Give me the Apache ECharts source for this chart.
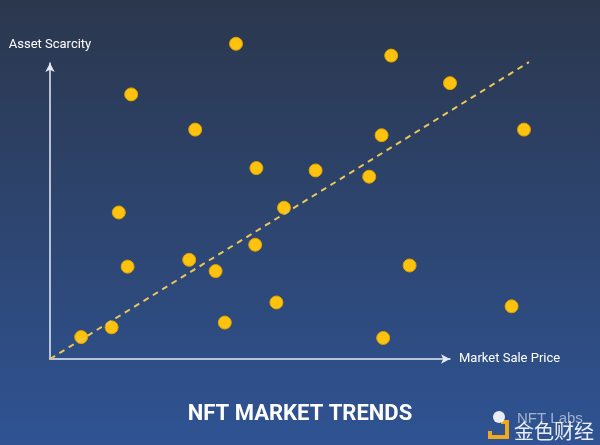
<!DOCTYPE html>
<html>
<head>
<meta charset="utf-8">
<script src="https://cdn.jsdelivr.net/npm/echarts@6/dist/echarts.min.js"></script>
<style>html,body{margin:0;padding:0;}#c{width:600px;height:445px;}</style>
</head>
<body>
<div id="c"></div>
<script>
// Market Sale Price (x) and Asset Scarcity (y)
const priceValues = [46.5, 85.3, 100, 20.3, 36.3, 82.9, 118.5, 51.6, 66.4, 79.8, 17.2, 58.5, 51.3, 19.4, 34.8, 41.4, 89.9, 56.6, 115.4, 43.7, 7.8, 15.4, 83.3];
const scarcityValues = [106.5, 102.5, 93.2, 89.4, 77.5, 75.6, 77.5, 64.5, 63.7, 61.6, 49.5, 51.1, 38.6, 31.2, 33.5, 29.7, 31.6, 19.1, 17.8, 12.3, 7.4, 10.7, 7.1];
const trendX = [0, 119.75];
const trendY = [0, 100.3];
const titleText = 'NFT MARKET TRENDS';
const xName = 'Market Sale Price';
const yName = 'Asset Scarcity';

const points = priceValues.map((x, i) => [x, scarcityValues[i]]);
const trend = trendX.map((x, i) => [x, trendY[i]]);
const font = "'Roboto', sans-serif";
const hiddenAxis = {show: false};

const chart = echarts.init(document.getElementById('c'));
chart.setOption({
  animation: false,
  backgroundColor: {
    type: 'linear', x: 0, y: 0, x2: 0, y2: 1,
    colorStops: [{offset: 0, color: '#2b374d'}, {offset: 1, color: '#2f5393'}]
  },
  title: {
    text: titleText, left: 'center', top: 398,
    textStyle: {color: '#ffffff', fontSize: 22, fontWeight: 'bold', fontFamily: font}
  },
  grid: [
    {left: 50, right: 150, top: 63, bottom: 86},
    {left: 50, right: 70, top: 59, bottom: 86}
  ],
  xAxis: [{
    type: 'value', min: 0, max: 100, gridIndex: 0,
    name: xName, nameLocation: 'end', nameGap: 9,
    nameTextStyle: {color: '#ffffff', fontSize: 13, fontFamily: font, verticalAlign: 'middle', padding: [8, 0, 0, 0]},
    axisLine: {show: true, lineStyle: {color: '#e6ecf7', width: 1.5}, symbol: ['none', 'arrow'], symbolSize: [7, 9]},
    axisTick: {show: false}, axisLabel: {show: false}, splitLine: {show: false}
  }, Object.assign({type: 'value', min: 0, max: 120, gridIndex: 1}, hiddenAxis)],
  yAxis: [{
    type: 'value', min: 0, max: 100, gridIndex: 0,
    name: yName, nameLocation: 'end', nameGap: 12,
    nameTextStyle: {color: '#ffffff', fontSize: 13, fontFamily: font, align: 'center'},
    axisLine: {show: true, lineStyle: {color: '#e6ecf7', width: 1.5}, symbol: ['none', 'arrow'], symbolSize: [7, 9]},
    axisTick: {show: false}, axisLabel: {show: false}, splitLine: {show: false}
  }, Object.assign({type: 'value', min: 0, max: 300 / 2.96, gridIndex: 1}, hiddenAxis)],
  graphic: [
    {type: 'polyline', shape: {points: [[501, 422], [507, 422], [507, 437], [490, 437], [490, 431]]}, style: {stroke: '#f0a81c', lineWidth: 4, fill: null}},
    {type: 'circle', shape: {cx: 499, cy: 417, r: 6}, style: {fill: 'rgba(255,255,255,0.9)'}},
    {type: 'text', left: 517, top: 411, style: {text: 'NFT Labs', fill: 'rgba(255,255,255,0.55)', font: '15px sans-serif'}},
    {type: 'text', left: 514, top: 421, style: {text: '金色财经', fill: 'rgba(255,255,255,0.9)', font: '20px "Noto Sans CJK SC"'}}
  ],
  series: [
    {
      type: 'line', data: trend, xAxisIndex: 1, yAxisIndex: 1, clip: false, symbol: 'none', silent: true,
      lineStyle: {color: '#e9c75a', width: 2, type: [6, 5]}
    },
    {
      type: 'scatter', data: points, xAxisIndex: 0, yAxisIndex: 0, clip: false, symbolSize: 13,
      itemStyle: {color: '#ffc20e', borderColor: '#d9a400', borderWidth: 1, opacity: 1}
    }
  ]
});
</script>
</body>
</html>
